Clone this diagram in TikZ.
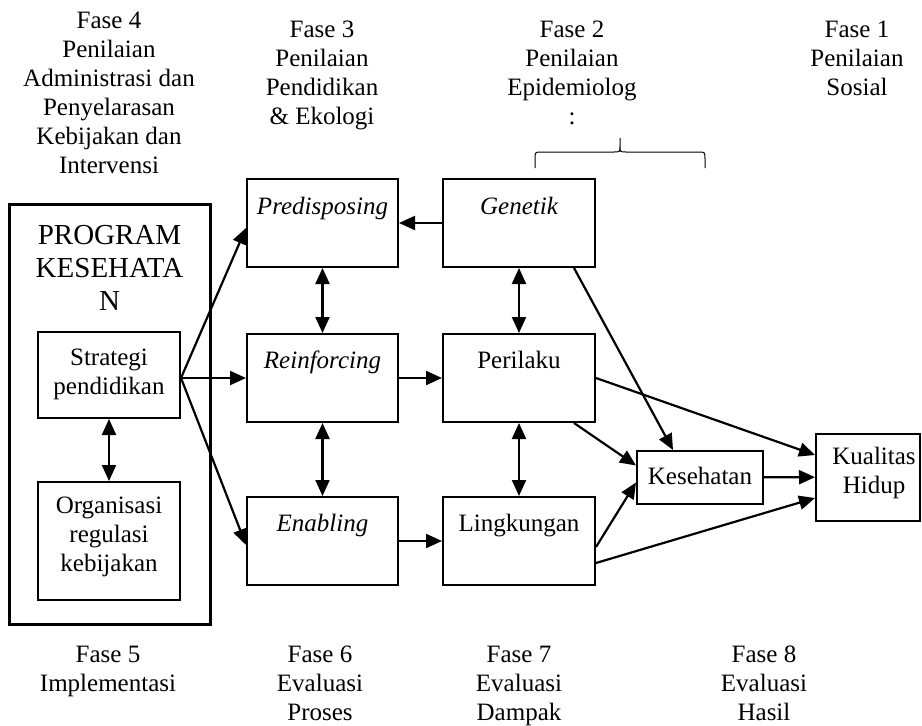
\documentclass[tikz,border=0pt]{standalone}
\usepackage{fontspec}
\setmainfont{Liberation Serif}
\usetikzlibrary{arrows.meta, positioning}

\tikzset{
	box/.style={draw, line width=2pt, inner sep=0pt},
	txt/.style={font=\fontsize{25}{29}\selectfont, align=center, inner sep=0pt, anchor=north},
}

\begin{document}
\begin{tikzpicture}[x=1pt, y=-1pt, line width=2.2pt, >={Triangle[length=16pt, width=14pt]}]
	\useasboundingbox (0,0) rectangle (922,726);

	\node[box, line width=3pt, minimum width=201pt, minimum height=420pt] 	(A) 	at (109.5,414) 	{};
	\node[box, minimum width=142pt, minimum height=86pt] 	(S) 	at (109,375) 	{};
	\node[box, minimum width=142pt, minimum height=118pt] 	(O) 	at (109,541) 	{};
	\node[box, minimum width=151pt, minimum height=88pt] 	(Pre) 	at (322.5,223) 	{};
	\node[box, minimum width=152pt, minimum height=88pt] 	(Gen) 	at (519,223) 	{};
	\node[box, minimum width=151pt, minimum height=88pt] 	(Rein) at (322.5,378) 	{};
	\node[box, minimum width=152pt, minimum height=88pt] 	(Per) 	at (519,378) 	{};
	\node[box, minimum width=151pt, minimum height=88pt] 	(Ena) 	at (322.5,541) 	{};
	\node[box, minimum width=152pt, minimum height=88pt] 	(Lin) 	at (519,541) 	{};
	\node[box, minimum width=126pt, minimum height=53pt] 	(Kes) 	at (700,477.5) 	{};
	\node[box, minimum width=104pt, minimum height=87pt] 	(Kua) 	at (868,477) 	{};

	\node[txt, font=\fontsize{29}{33}\selectfont] 	(A-t) 	at (109.5,224) 	{PROGRAM\\KESEHATA\\N};
	\node[txt] 	(S-t) 	at (109,348) 	{Strategi\\pendidikan};
	\node[txt] 	(O-t) 	at (109,496) 	{Organisasi\\regulasi\\kebijakan};
	\node[txt] 	(Pre-t) at (322.5,196) 	{\itshape Predisposing};
	\node[txt] 	(Gen-t) at (519,196) 	{\itshape Genetik};
	\node[txt] 	(Rein-t) at (322.5,350) {\itshape Reinforcing};
	\node[txt] 	(Per-t) at (519,350) 	{Perilaku};
	\node[txt] 	(Ena-t) at (322.5,513) 	{\itshape Enabling};
	\node[txt] 	(Lin-t) at (519,513) 	{Lingkungan};
	\node[txt] 	(Kes-t) at (700,466) 	{Kesehatan};
	\node[txt] 	(Kua-t) at (874,446) 	{Kualitas\\Hidup};

	\node[txt] 	(F4) 	at (109,11) 	{Fase 4\\Penilaian\\Administrasi dan\\Penyelarasan\\Kebijakan dan\\Intervensi};
	\node[txt] 	(F3) 	at (322,20) 	{Fase 3\\Penilaian\\Pendidikan\\\& Ekologi};
	\node[txt] 	(F2) 	at (572,20) 	{Fase 2\\Penilaian\\Epidemiolog\\:};
	\node[txt] 	(F1) 	at (857,20) 	{Fase 1\\Penilaian\\Sosial};
	\node[txt] 	(F5) 	at (108,645) 	{Fase 5\\Implementasi};
	\node[txt] 	(F6) 	at (320,645) 	{Fase 6\\Evaluasi\\Proses};
	\node[txt] 	(F7) 	at (519,645) 	{Fase 7\\Evaluasi\\Dampak};
	\node[txt] 	(F8) 	at (764,645) 	{Fase 8\\Evaluasi\\Hasil};

	\coordinate (s) at (S.east |- Rein.west);
	\coordinate (bl) at (535,168);
	\coordinate (br) at (705,168);
	\coordinate (bt) at (620,138);

	\draw[line width=1pt] (bl) -- (535,159) .. controls (535,152) .. (542,152) -- (614,152)
		.. controls (620,152) .. (620,146) -- (bt) -- (620,146) .. controls (620,152) .. (626,152)
		-- (698,152) .. controls (705,152) .. (705,159) -- (br);

	\path[->]
	(s) 	edge 		([yshift=-5pt]Pre.west)
		edge 		(Rein.west)
		edge 		([yshift=-4pt]Ena.west)
	(S) 	edge [<->] 	(O)
	(Gen) 	edge 		(Pre)
		edge [<->] 	(Per)
	(Pre) 	edge [<->] 	(Rein)
	(Rein) 	edge [<->] 	(Ena)
		edge 		(Per)
	(Per) 	edge [<->] 	(Lin)
	(Ena) 	edge 		(Lin)
	([xshift=-22pt]Gen.south east) 	edge 	([xshift=-27pt]Kes.north)
	(Per.east) 	edge 	([yshift=22pt]Kua.west)
	([xshift=-22pt]Per.south east) 	edge 	([yshift=12pt]Kes.west)
	([yshift=-6pt]Lin.east) 	edge 	([yshift=-5pt]Kes.west)
	([yshift=-22pt]Lin.east) 	edge 	([yshift=-21pt]Kua.west)
	(Kes) 	edge 		(Kua)
;

\end{tikzpicture}
\end{document}
